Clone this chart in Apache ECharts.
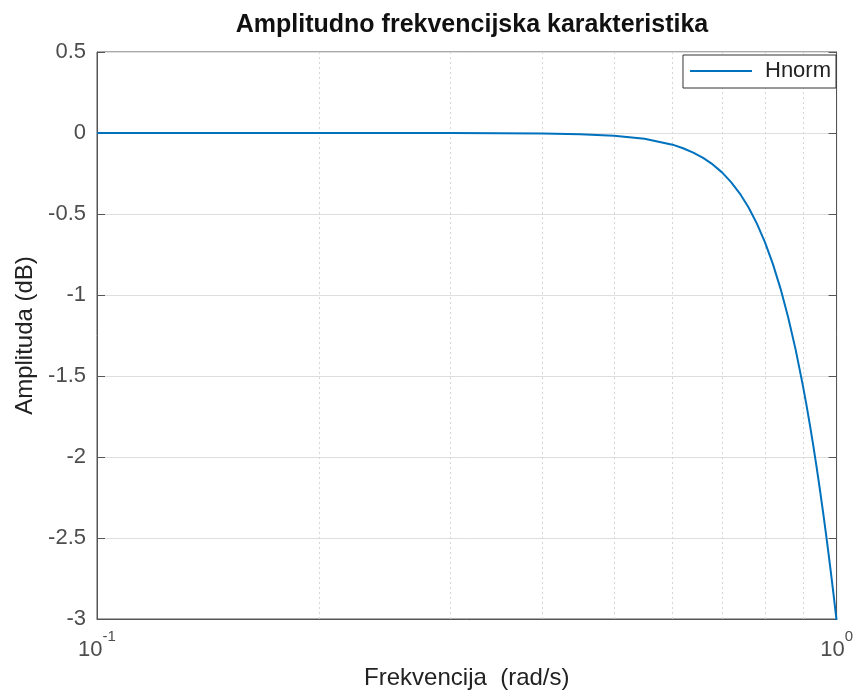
<!DOCTYPE html>
<html>
<head>
<meta charset="utf-8">
<script src="https://cdn.jsdelivr.net/npm/echarts@6/dist/echarts.min.js"></script>
<style>
  html, body { margin: 0; padding: 0; background: #fff; }
</style>
</head>
<body>
<div id="myChart" style="width: 856px; height: 697px;"></div>
<script>
// frekvencija (rad/s) i amplituda (dB) ocitane sa slike
var freq = [0.1, 0.15, 0.2, 0.25, 0.3, 0.35, 0.4, 0.45, 0.5, 0.55, 0.6, 0.62,
  0.64, 0.66, 0.68, 0.7, 0.72, 0.74, 0.76, 0.78, 0.8, 0.82, 0.84, 0.86,
  0.88, 0.9, 0.91, 0.92, 0.93, 0.94, 0.95, 0.96, 0.97, 0.98, 0.99, 1.0];
var hnorm = [0, 0, 0, 0, 0, -0.001, -0.003, -0.007, -0.017, -0.036, -0.072, -0.094,
  -0.121, -0.154, -0.194, -0.243, -0.303, -0.374, -0.458, -0.558, -0.674, -0.808, -0.962, -1.137,
  -1.334, -1.555, -1.674, -1.799, -1.930, -2.067, -2.210, -2.359, -2.513, -2.674, -2.839, -3.01];
var minorGrid = [0.2, 0.3, 0.4, 0.5, 0.6, 0.7, 0.8, 0.9];

var font = "'Liberation Sans', Arial, sans-serif";
var axisColor = "#4d4d4d";

var myChart = echarts.init(document.getElementById("myChart"));
myChart.setOption({
  animation: false,
  title: {
    text: "Amplitudno frekvencijska karakteristika",
    left: 467,
    textAlign: "center",
    top: 8,
    textStyle: { fontFamily: font, fontSize: 25, fontWeight: "bold", color: "#111" }
  },
  grid: {
    left: 97,
    right: 18,
    top: 52,
    bottom: 78,
    show: true,
    borderColor: "#555",
    borderWidth: 1
  },
  legend: {
    data: ["Hnorm"],
    right: 20,
    top: 55,
    icon: "rect",
    itemWidth: 62,
    itemHeight: 2,
    padding: [5, 5, 6, 7],
    borderColor: "#333",
    borderWidth: 1,
    borderRadius: 0,
    backgroundColor: "#fff",
    textStyle: { fontFamily: font, fontSize: 22, color: "#222", padding: [0, 0, 0, 8] }
  },
  xAxis: [
    {
      type: "log",
      logBase: 10,
      min: 0.1,
      max: 1,
      name: "Frekvencija  (rad/s)",
      nameLocation: "middle",
      nameGap: 47,
      nameTextStyle: { fontFamily: font, fontSize: 24, color: "#222" },
      axisLine: { show: true, onZero: false, lineStyle: { color: "#555" } },
      axisTick: { show: false },
      splitLine: { show: false },
      axisLabel: {
        margin: 10,
        formatter: function (v) {
          var e = Math.round(Math.log10(v));
          return "{b|10}{s|" + e + "}";
        },
        rich: {
          b: { fontFamily: font, fontSize: 22, color: axisColor, padding: [10, 0, 0, 0] },
          s: { fontFamily: font, fontSize: 15, color: axisColor, verticalAlign: "top", padding: [0, 0, 10, 0] }
        }
      }
    }
  ],
  yAxis: [
    {
      type: "value",
      min: -3,
      max: 0.5,
      interval: 0.5,
      name: "Amplituda (dB)",
      nameLocation: "middle",
      nameGap: 58,
      nameTextStyle: { fontFamily: font, fontSize: 24, color: "#222" },
      axisLine: { show: true, lineStyle: { color: "#555" } },
      axisTick: { show: true, inside: true, length: 8, lineStyle: { color: "#555" } },
      axisLabel: { fontFamily: font, fontSize: 22, color: axisColor, margin: 11 },
      splitLine: { show: true, lineStyle: { color: "#dedede", width: 1 } }
    },
    {
      type: "value",
      min: -3,
      max: 0.5,
      interval: 0.5,
      position: "right",
      axisLine: { show: true, lineStyle: { color: "#555" } },
      axisTick: { show: true, inside: true, length: 8, lineStyle: { color: "#555" } },
      axisLabel: { show: false },
      splitLine: { show: false }
    }
  ],
  series: [
    {
      // tackaste linije pomocne mreze
      type: "line",
      data: [],
      silent: true,
      z: 1,
      markLine: {
        silent: true,
        z: 1,
        symbol: "none",
        label: { show: false },
        emphasis: { disabled: true },
        lineStyle: { color: "#d6d6d6", type: [2, 3], width: 1 },
        data: minorGrid.map(function (v) { return { xAxis: v }; })
      }
    },
    {
      name: "Hnorm",
      type: "line",
      data: freq.map(function (f, i) { return [f, hnorm[i]]; }),
      smooth: false,
      showSymbol: false,
      lineStyle: { color: "#0072BD", width: 2 },
      itemStyle: { color: "#0072BD" },
      z: 3
    }
  ]
});
</script>
</body>
</html>
